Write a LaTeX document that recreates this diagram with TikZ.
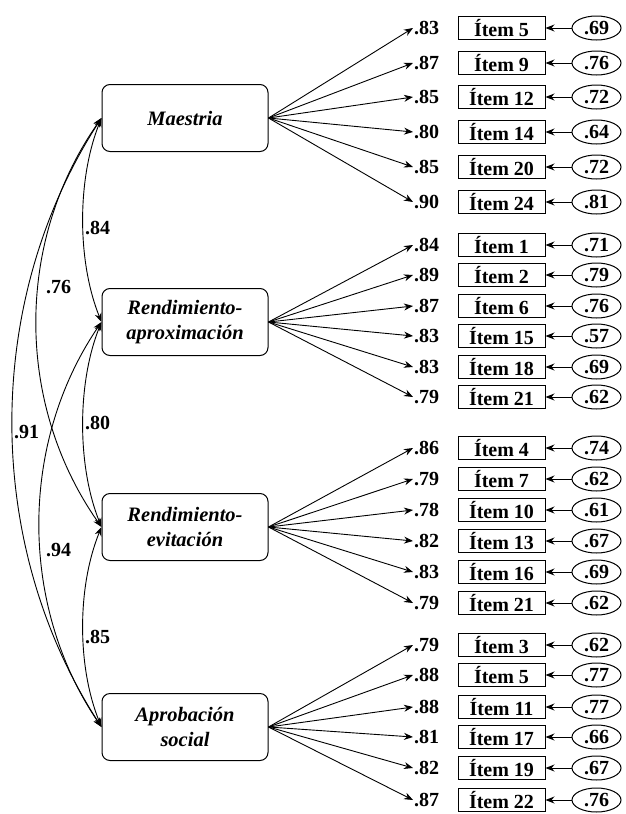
\documentclass[tikz,border=0pt]{standalone}
\usepackage{fontspec}
\setmainfont{Liberation Serif}
\usetikzlibrary{arrows.meta,shapes.geometric}
\newcommand\itemrow[6]{%
  \node[itembox] (i#1#2) at (501.5,#3) {Ítem #4};
  \node[errnode] (e#1#2) at (596.5,#3) {#6};
  \node[loadlab] (l#1#2) at (413,#3) {#5};
  \draw[conn] (f#1.east) -- (l#1#2.west);
  \draw[conn] (e#1#2.west) -- (i#1#2.east);
}
\begin{document}
\begin{tikzpicture}[x=1pt,y=-1pt,
  factor/.style={draw, rounded corners=8pt, minimum width=166pt, minimum height=67pt,
    align=center, font=\fontsize{20.5}{25}\selectfont\bfseries\itshape, inner sep=0pt, line width=1pt},
  itembox/.style={draw, minimum width=87pt, minimum height=23pt, inner sep=0pt,
    font=\fontsize{20}{21}\selectfont\bfseries, line width=1pt},
  errnode/.style={draw, ellipse, minimum width=49pt, minimum height=24pt, inner sep=0pt,
    font=\fontsize{20}{21}\selectfont\bfseries, line width=1pt},
  loadlab/.style={anchor=west, inner sep=1pt, font=\fontsize{20}{21}\selectfont\bfseries},
  conn/.style={-{Stealth[length=9pt,width=7pt]}, line width=0.9pt},
  cov/.style={{Stealth[length=9pt,width=7pt]}-{Stealth[length=9pt,width=7pt]}, line width=0.9pt},
  covlab/.style={anchor=west, inner sep=0pt, font=\fontsize{20}{21}\selectfont\bfseries}]
\useasboundingbox (0,0) rectangle (625,814);
\node[factor] (f1) at (185,118) {Maestria};
\node[factor] (f2) at (185,322) {Rendimiento-\\aproximación};
\node[factor] (f3) at (185,527) {Rendimiento-\\evitación};
\node[factor] (f4) at (185,727) {Aprobación\\social};
% group 1
\itemrow{1}{1}{28}{5}{.83}{.69}
\itemrow{1}{2}{63}{9}{.87}{.76}
\itemrow{1}{3}{97}{12}{.85}{.72}
\itemrow{1}{4}{132}{14}{.80}{.64}
\itemrow{1}{5}{167}{20}{.85}{.72}
\itemrow{1}{6}{202}{24}{.90}{.81}
% group 2
\itemrow{2}{1}{245}{1}{.84}{.71}
\itemrow{2}{2}{275}{2}{.89}{.79}
\itemrow{2}{3}{306}{6}{.87}{.76}
\itemrow{2}{4}{336}{15}{.83}{.57}
\itemrow{2}{5}{367}{18}{.83}{.69}
\itemrow{2}{6}{397}{21}{.79}{.62}
% group 3
\itemrow{3}{1}{448}{4}{.86}{.74}
\itemrow{3}{2}{479}{7}{.79}{.62}
\itemrow{3}{3}{510}{10}{.78}{.61}
\itemrow{3}{4}{541}{13}{.82}{.67}
\itemrow{3}{5}{572}{16}{.83}{.69}
\itemrow{3}{6}{603}{21}{.79}{.62}
% group 4
\itemrow{4}{1}{645}{3}{.79}{.62}
\itemrow{4}{2}{675}{5}{.88}{.77}
\itemrow{4}{3}{707}{11}{.88}{.77}
\itemrow{4}{4}{737}{17}{.81}{.66}
\itemrow{4}{5}{768}{19}{.82}{.67}
\itemrow{4}{6}{800}{22}{.87}{.76}
% covariances
\draw[cov] (f1.west) .. controls (77,179) and (77,261) .. (f2.west);
\draw[cov] (f2.west) .. controls (77,383) and (77,466) .. (f3.west);
\draw[cov] (f3.west) .. controls (77,587) and (77,667) .. (f4.west);
\draw[cov] (f1.west) .. controls (15,241) and (15,404) .. (f3.west);
\draw[cov] (f2.west) .. controls (19,443) and (19,606) .. (f4.west);
\draw[cov] (f1.west) .. controls (-17,301) and (-17,544) .. (f4.west);
\node[covlab] (c12) at (85,228) {.84};
\node[covlab] (c13) at (46,287) {.76};
\node[covlab] (c14) at (14,432) {.91};
\node[covlab] (c23) at (85,423) {.80};
\node[covlab] (c24) at (46,550) {.94};
\node[covlab] (c34) at (85,637) {.85};
\end{tikzpicture}
\end{document}
